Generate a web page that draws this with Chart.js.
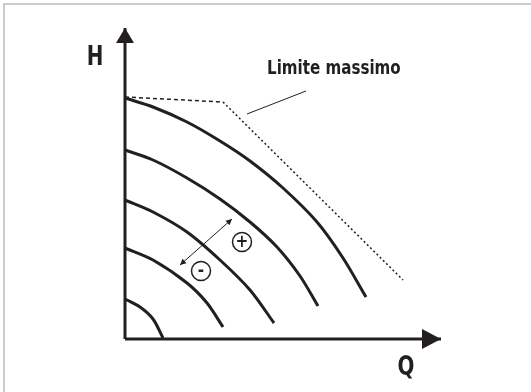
<!DOCTYPE html>
<html>
<head>
<meta charset="utf-8">
<script src="https://cdn.jsdelivr.net/npm/chart.js@4.4.1/dist/chart.umd.min.js"></script>
<style>
  html, body { margin: 0; padding: 0; background: #fff; overflow: hidden; width: 531px; height: 392px; }
  #frame { position: absolute; left: 3px; top: 3px; right: 0; bottom: 0;
           border-top: 2px solid #cccccc; border-left: 2px solid #cccccc; }
  #wrap { position: absolute; left: 0; top: 0; width: 531px; height: 392px; }
</style>
</head>
<body>
<div id="frame"></div>
<div id="wrap"><canvas id="pumpChart" width="531" height="392"></canvas></div>
<script>
// Pump speed curves, head H vs flow Q (arbitrary units, origin at the axis corner)
const curve1 = [{x:0,y:241},{x:28,y:232},{x:62,y:217},{x:95,y:198},{x:125,y:178},{x:158,y:151},{x:192,y:117},{x:218,y:81},{x:241,y:42}];
const curve2 = [{x:0,y:189},{x:28,y:179},{x:62,y:161},{x:95,y:140},{x:125,y:117},{x:152,y:92},{x:175,y:63},{x:193,y:33}];
const curve3 = [{x:0,y:139},{x:28,y:127},{x:62,y:107},{x:95,y:79},{x:125,y:49},{x:149,y:16}];
const curve4 = [{x:0,y:91},{x:28,y:79},{x:62,y:56},{x:82,y:36},{x:98,y:12}];
const curve5 = [{x:0,y:40},{x:15,y:32},{x:28,y:20},{x:38,y:1}];

// Maximum limit envelope and its leader line
const limitLine = [{x:0,y:242},{x:98,y:237},{x:278,y:59}];
const leaderLine = [{x:122,y:225},{x:181,y:248}];

// Speed change arrow and the +/- markers
const speedArrow = [{x:55,y:74},{x:107,y:120}];
const signPoints = [{x:117,y:97},{x:76,y:68}];
const signLabels = ['+', '-'];

// Axes (end = arrow tip)
const hAxis = [{x:0,y:0},{x:0,y:311}];
const qAxis = [{x:0,y:0},{x:316,y:0}];

const INK = '#231f20';
const FONT = "'DejaVu Sans Condensed', 'Liberation Sans Narrow', 'DejaVu Sans', sans-serif";

function curveSet(data) {
  return { data, showLine: true, borderColor: INK, borderWidth: 3, pointRadius: 0,
           tension: 0.3, fill: false };
}

// arrowheads at ends of flagged datasets
const arrowPlugin = {
  id: 'arrowHeads',
  afterDatasetsDraw(chart) {
    const ctx = chart.ctx;
    chart.data.datasets.forEach((ds, i) => {
      if (!ds.arrow) return;
      const pts = chart.getDatasetMeta(i).data;
      const heads = [];
      if (ds.arrow.end) heads.push([pts[pts.length - 1], pts[pts.length - 2]]);
      if (ds.arrow.start) heads.push([pts[0], pts[1]]);
      heads.forEach(([tip, from]) => {
        const a = Math.atan2(tip.y - from.y, tip.x - from.x);
        const L = ds.arrow.len, W = ds.arrow.half;
        ctx.save();
        ctx.translate(tip.x, tip.y);
        ctx.rotate(a);
        ctx.fillStyle = INK;
        ctx.beginPath();
        ctx.moveTo(0, 0);
        ctx.lineTo(-L, -W);
        ctx.lineTo(-L, W);
        ctx.closePath();
        ctx.fill();
        ctx.restore();
      });
    });
  }
};

// text: axis names, limit label and +/- signs
const textPlugin = {
  id: 'texts',
  afterDraw(chart, args, opts) {
    const ctx = chart.ctx;
    const xs = chart.scales.x, ys = chart.scales.y;
    ctx.save();
    ctx.fillStyle = INK;
    ctx.textBaseline = 'middle';
    opts.items.forEach(t => {
      ctx.font = 'bold ' + t.size + 'px ' + FONT;
      ctx.textAlign = t.align || 'center';
      const px = xs.getPixelForValue(t.x), py = ys.getPixelForValue(t.y);
      // squeeze to the narrow lettering of the original drawing
      ctx.save();
      ctx.translate(px, py);
      ctx.scale(t.squeeze || 1, 1);
      ctx.fillText(t.text, 0, 0);
      ctx.restore();
    });
    const meta = chart.getDatasetMeta(chart.data.datasets.findIndex(d => d.signs));
    meta.data.forEach((p, i) => {
      ctx.font = 'bold 17px ' + FONT;
      ctx.textAlign = 'center';
      ctx.fillText(signLabels[i], p.x, p.y + 1);
    });
    ctx.restore();
  }
};

const chart = new Chart(document.getElementById('pumpChart'), {
  type: 'scatter',
  data: {
    datasets: [
      curveSet(curve1), curveSet(curve2), curveSet(curve3), curveSet(curve4), curveSet(curve5),
      {
        data: limitLine, showLine: true, borderColor: INK, borderWidth: 1.5, pointRadius: 0,
        segment: { borderDash: c => c.p0DataIndex === 0 ? [4, 3] : [2, 2.5] }
      },
      { data: leaderLine, showLine: true, borderColor: INK, borderWidth: 1, pointRadius: 0 },
      { data: speedArrow, showLine: true, borderColor: INK, borderWidth: 1, pointRadius: 0,
        arrow: { start: true, end: true, len: 6, half: 3 } },
      { data: hAxis, showLine: true, borderColor: INK, borderWidth: 3, pointRadius: 0,
        arrow: { end: true, len: 15, half: 9 } },
      { data: qAxis, showLine: true, borderColor: INK, borderWidth: 3, pointRadius: 0,
        arrow: { end: true, len: 19, half: 10 } },
      { data: signPoints, signs: true, showLine: false, pointRadius: 9.5, pointBorderWidth: 1.5,
        pointBackgroundColor: '#fff', pointBorderColor: INK }
    ]
  },
  options: {
    responsive: false,
    animation: false,
    layout: { padding: 0, autoPadding: false },
    scales: {
      x: { type: 'linear', min: -125, max: 406, display: false },
      y: { type: 'linear', min: -53, max: 339, display: false }
    },
    plugins: {
      legend: { display: false },
      tooltip: { enabled: false },
      texts: {
        items: [
          { text: 'H', x: -30, y: 281, size: 26, squeeze: 0.85 },
          { text: 'Q', x: 281, y: -29, size: 26, squeeze: 0.85 },
          { text: 'Limite massimo', x: 142, y: 270, size: 20, align: 'left', squeeze: 0.84 }
        ]
      }
    }
  },
  plugins: [arrowPlugin, textPlugin]
});
</script>
</body>
</html>
